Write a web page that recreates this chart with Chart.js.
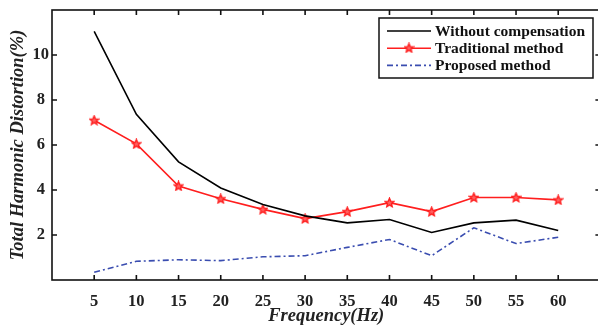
<!DOCTYPE html>
<html>
<head>
<meta charset="utf-8">
<script src="https://cdn.jsdelivr.net/npm/chart.js@4/dist/chart.umd.min.js"></script>
<style>
html, body { margin: 0; padding: 0; background: #fff; overflow: hidden; }
#wrap { width: 606px; height: 326px; }
</style>
</head>
<body>
<div id="wrap"><canvas id="chart" width="606" height="326"></canvas></div>
<script>
// data
var freq = [5, 10, 15, 20, 25, 30, 35, 40, 45, 50, 55, 60];
var withoutComp = [11.05, 7.36, 5.25, 4.09, 3.36, 2.85, 2.54, 2.69, 2.11, 2.54, 2.66, 2.2];
var traditional = [7.1, 6.05, 4.18, 3.61, 3.14, 2.73, 3.04, 3.44, 3.04, 3.67, 3.67, 3.56];
var proposed = [0.34, 0.83, 0.9, 0.86, 1.03, 1.08, 1.45, 1.8, 1.08, 2.32, 1.62, 1.9];
var yTicks = [2, 4, 6, 8, 10];
var seriesNames = ["Without compensation", "Traditional method", "Proposed method"];

var serif = "'Liberation Serif', 'DejaVu Serif', serif";

function pts(vals) {
  return freq.map(function (f, i) { return { x: f, y: vals[i] }; });
}

// small red star marker
var star = document.createElement("canvas");
star.width = 11; star.height = 11;
(function () {
  var c = star.getContext("2d");
  c.beginPath();
  for (var i = 0; i < 10; i++) {
    var r = i % 2 === 0 ? 4.6 : 2.1;
    var a = -Math.PI / 2 + i * Math.PI / 5;
    var px = 5.5 + r * Math.cos(a), py = 5.8 + r * Math.sin(a);
    if (i === 0) c.moveTo(px, py); else c.lineTo(px, py);
  }
  c.closePath();
  c.fillStyle = "#ff6060";
  c.fill();
  c.lineWidth = 1.4;
  c.strokeStyle = "#ff1e1e";
  c.stroke();
})();

// box frame with inward ticks
var framePlugin = {
  id: "frame",
  afterDraw: function (chart) {
    var ctx = chart.ctx, a = chart.chartArea;
    var xs = chart.scales.x, ys = chart.scales.y;
    ctx.save();
    ctx.strokeStyle = "#111";
    ctx.lineWidth = 1.6;
    ctx.strokeRect(a.left, a.top, a.right - a.left, a.bottom - a.top);
    ctx.beginPath();
    freq.forEach(function (f) {
      var px = xs.getPixelForValue(f);
      ctx.moveTo(px, a.bottom); ctx.lineTo(px, a.bottom - 5);
      ctx.moveTo(px, a.top); ctx.lineTo(px, a.top + 5);
    });
    yTicks.forEach(function (v) {
      var py = ys.getPixelForValue(v);
      ctx.moveTo(a.left, py); ctx.lineTo(a.left + 5, py);
      ctx.moveTo(a.right, py); ctx.lineTo(a.right - 5, py);
    });
    ctx.stroke();
    ctx.restore();
  }
};

// legend box in the upper right corner
var legendPlugin = {
  id: "boxLegend",
  afterDraw: function (chart) {
    var ctx = chart.ctx;
    ctx.save();
    ctx.fillStyle = "#fff";
    ctx.fillRect(379, 18, 214, 60);
    ctx.strokeStyle = "#111";
    ctx.lineWidth = 1.5;
    ctx.strokeRect(379, 18, 214, 60);
    ctx.font = "bold 15.5px " + serif;
    ctx.textBaseline = "middle";
    chart.data.datasets.forEach(function (ds, i) {
      var y = 31 + i * 17.2;
      ctx.beginPath();
      ctx.setLineDash(ds.borderDash || []);
      ctx.strokeStyle = ds.borderColor;
      ctx.lineWidth = ds.borderWidth;
      ctx.moveTo(387, y); ctx.lineTo(431, y);
      ctx.stroke();
      ctx.setLineDash([]);
      if (ds.pointStyle && ds.pointRadius > 0) {
        ctx.drawImage(ds.pointStyle, 409 - 5.5, y - 5.8);
      }
      ctx.fillStyle = "#111";
      ctx.fillText(ds.label, 435, y + 1);
    });
    ctx.restore();
  }
};

var ctx = document.getElementById("chart").getContext("2d");
var chart = new Chart(ctx, {
  type: "line",
  data: {
    datasets: [{
      label: seriesNames[0],
      data: pts(withoutComp),
      borderColor: "#000000",
      borderWidth: 1.6,
      pointRadius: 0,
      tension: 0
    }, {
      label: seriesNames[1],
      data: pts(traditional),
      borderColor: "#ff1e1e",
      borderWidth: 1.6,
      pointStyle: star,
      pointRadius: 4,
      tension: 0
    }, {
      label: seriesNames[2],
      data: pts(proposed),
      borderColor: "#3a4db0",
      borderWidth: 1.6,
      borderDash: [6, 3, 2, 3],
      pointRadius: 0,
      tension: 0
    }]
  },
  options: {
    responsive: false,
    animation: false,
    layout: { padding: { top: 10, right: 5, left: 0, bottom: 0 } },
    plugins: {
      legend: { display: false },
      tooltip: { enabled: false }
    },
    scales: {
      x: {
        type: "linear",
        min: 0,
        max: 65,
        afterFit: function (s) { s.height = 46; s.paddingLeft = 0; s.paddingRight = 0; },
        afterBuildTicks: function (s) {
          s.ticks = [0].concat(freq, [65]).map(function (v) { return { value: v }; });
        },
        grid: { display: false, drawTicks: false },
        border: { display: false },
        ticks: {
          padding: 12,
          maxRotation: 0,
          autoSkip: false,
          color: "#222",
          font: { family: serif, size: 16.5, weight: "bold" },
          callback: function (v) { return freq.indexOf(v) >= 0 ? String(v) : ""; }
        },
        title: {
          display: true,
          text: "Frequency(Hz)",
          color: "#222",
          padding: { top: 0, bottom: -1 },
          font: { family: serif, size: 18.5, weight: "bold", style: "italic" }
        }
      },
      y: {
        min: 0,
        max: 12,
        afterFit: function (s) { s.width = 52; s.paddingTop = 0; s.paddingBottom = 0; },
        afterBuildTicks: function (s) {
          s.ticks = [0].concat(yTicks, [12]).map(function (v) { return { value: v }; });
        },
        grid: { display: false, drawTicks: false },
        border: { display: false },
        ticks: {
          padding: 3,
          crossAlign: "center",
          color: "#222",
          font: { family: serif, size: 16.5, weight: "bold" },
          callback: function (v) { return yTicks.indexOf(v) >= 0 ? String(v) : ""; }
        },
        title: {
          display: true,
          text: "Total Harmonic Distortion(%)",
          color: "#222",
          padding: { top: 7, bottom: 0 },
          font: { family: serif, size: 18.5, weight: "bold", style: "italic" }
        }
      }
    }
  },
  plugins: [framePlugin, legendPlugin]
});
</script>
</body>
</html>
